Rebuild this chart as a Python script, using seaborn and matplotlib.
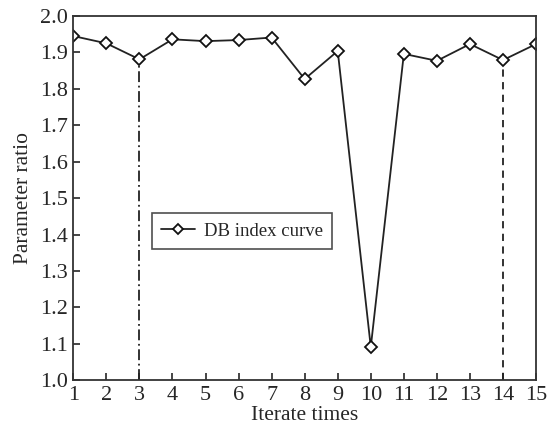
import numpy as np
import pandas as pd
import matplotlib
matplotlib.use("Agg")
import matplotlib.pyplot as plt
import seaborn as sns

# ========================
# DATA
# ========================
iterations = list(range(1, 16))
db_index = [1.945, 1.925, 1.881, 1.936, 1.931, 1.934, 1.941, 1.827,
            1.904, 1.091, 1.896, 1.877, 1.923, 1.879, 1.923]
x_ticks = list(range(1, 16))
y_ticks = [1.0, 1.1, 1.2, 1.3, 1.4, 1.5, 1.6, 1.7, 1.8, 1.9, 2.0]
marked_iter = [3, 14]
marked_styles = [(0, (6, 2, 1, 2)), (0, (4, 3))]

df = pd.DataFrame({"iter": iterations, "db": db_index})

# ========================
# STYLE
# ========================
sns.set_style("ticks")
plt.rcParams["font.family"] = ["Liberation Serif", "DejaVu Serif"]

fig, ax = plt.subplots(figsize=(5.47, 4.33), dpi=100)

sns.lineplot(data=df, x="iter", y="db", ax=ax, color="#222222", lw=1.3,
             marker="D", markersize=6.5, markerfacecolor="white",
             markeredgecolor="#111111", markeredgewidth=1.3,
             label="DB index curve")

# vertical markers down to x-axis
for it, ls in zip(marked_iter, marked_styles):
    yv = df.loc[df["iter"] == it, "db"].iloc[0]
    ax.vlines(it, 1.0, yv, colors="#222222", linestyles=[ls], lw=1.3, zorder=1)

ax.set_xlim(1, 15)
ax.set_ylim(1.0, 2.0)
ax.set_xticks(x_ticks)
ax.set_yticks(y_ticks)
ax.set_yticklabels([f"{v:.1f}" for v in y_ticks])
ax.tick_params(direction="in", length=5, width=1.2, labelsize=16,
               top=False, right=False, pad=4)
for s in ax.spines.values():
    s.set_linewidth(1.3)
    s.set_color("#333333")

ax.set_xlabel("Iterate times", fontsize=15.5, labelpad=1)
ax.set_ylabel("Parameter ratio", fontsize=15.5, labelpad=5)

leg = ax.legend(loc="lower left", bbox_to_anchor=(0.169, 0.36), fontsize=13.5,
                frameon=True, fancybox=False, edgecolor="#222222",
                handlelength=1.8, handletextpad=0.5, borderpad=0.5,
                borderaxespad=0)
leg.get_frame().set_linewidth(1.2)
for h in leg.legend_handles:
    h.set_markersize(5)

fig.subplots_adjust(left=0.134, right=0.98, top=0.963, bottom=0.122)
fig.savefig("out.png", dpi=100)
